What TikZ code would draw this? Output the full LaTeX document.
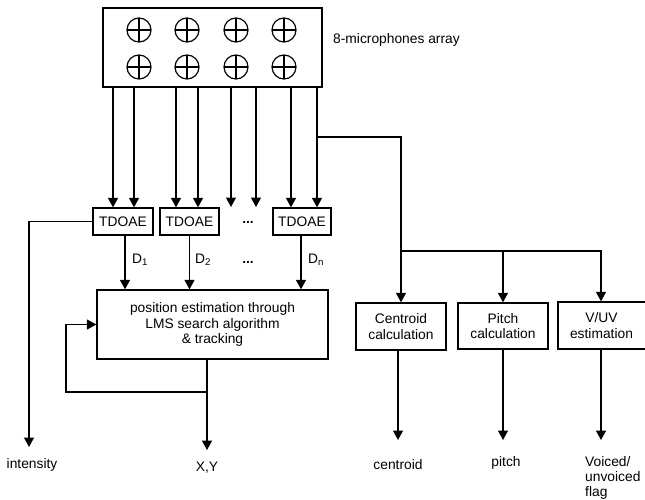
\documentclass[tikz,border=0pt]{standalone}
\usepackage{fontspec}
\setmainfont{Liberation Sans}
\usetikzlibrary{arrows.meta,calc}
\begin{document}
\begin{tikzpicture}[x=1pt,y=-1pt,
  every node/.style={font=\fontsize{13.8}{15.5}\selectfont},
  ln/.style={line width=1.3pt},
  arr/.style={ln,-{Triangle[length=9.5pt,width=10pt]}},
  blk/.style={draw,ln,rectangle,inner sep=0pt,align=center},
  mic/.style={draw,line width=1.2pt,circle,minimum size=24pt,inner sep=0pt,
    path picture={\draw[line width=1.2pt] (path picture bounding box.north) -- (path picture bounding box.south)
      (path picture bounding box.west) -- (path picture bounding box.east);}},
  lbl/.style={inner sep=0pt,align=left}]
\useasboundingbox (0,0) rectangle (645,500);
% microphone array
\node[blk,minimum width=219pt,minimum height=79pt] (array) at (212.5,47.5) {};
\node[mic] (m1) at (139,30) {};
\node[mic] (m2) at (187,30) {};
\node[mic] (m3) at (236,30) {};
\node[mic] (m4) at (284,30) {};
\node[mic] (m5) at (139,67) {};
\node[mic] (m6) at (187,67) {};
\node[mic] (m7) at (236,67) {};
\node[mic] (m8) at (284,67) {};
\node[lbl,anchor=west] (arrlbl) at (333,40) {8-microphones array};
% TDOAE
\node[blk,minimum width=60pt,minimum height=27pt] (t1) at (123,221.5) {TDOAE};
\node[blk,minimum width=59pt,minimum height=27pt] (t2) at (189.5,221.5) {TDOAE};
\node[blk,minimum width=58pt,minimum height=27pt] (t3) at (302,221.5) {TDOAE};
\node[lbl] (dots1) at (248,222) {\textbf{...}};
\coordinate (d1) at (231,207);
\coordinate (d2) at (256,207);
% arrows from array
\draw[arr] ([xshift=-10pt]t1.north |- array.south) -- ([xshift=-10pt]t1.north);
\draw[arr] ([xshift=11pt]t1.north |- array.south) -- ([xshift=11pt]t1.north);
\draw[arr] ([xshift=-13.5pt]t2.north |- array.south) -- ([xshift=-13.5pt]t2.north);
\draw[arr] ([xshift=8.5pt]t2.north |- array.south) -- ([xshift=8.5pt]t2.north);
\draw[arr] (d1 |- array.south) -- (d1);
\draw[arr] (d2 |- array.south) -- (d2);
\draw[arr] ([xshift=-11pt]t3.north |- array.south) -- ([xshift=-11pt]t3.north);
\draw[arr] ([xshift=15pt]t3.north |- array.south) -- ([xshift=15pt]t3.north);
% position estimation
\node[blk,minimum width=231pt,minimum height=69pt] (pos) at (212.5,324.5)
  {position estimation through\\LMS search algorithm\\\& tracking};
\draw[arr] ([xshift=2pt]t1.south) -- ([xshift=2pt]t1.south |- pos.north);
\draw[arr] (t2.south) -- (t2.south |- pos.north);
\draw[arr] ([xshift=-1pt]t3.south) -- ([xshift=-1pt]t3.south |- pos.north);
\node[lbl,anchor=west] (D1) at (132,260) {D\textsubscript{1}};
\node[lbl,anchor=west] (D2) at (195,260) {D\textsubscript{2}};
\node[lbl,anchor=west] (Dn) at (308,260) {D\textsubscript{n}};
\node[lbl] (dots2) at (248,262) {\textbf{...}};
% intensity
\coordinate (iend) at (29,447);
\draw[arr] (t1.west) -| (iend);
\node[lbl] (intensity) at (32,465) {intensity};
% X,Y output and feedback
\coordinate (xyend) at (207,450);
\coordinate (fb) at (207,392);
\draw[arr] (pos.south -| xyend) -- (xyend);
\draw[arr] (fb) -- (66,392) |- (pos.west);
\node[lbl] (xy) at (207,468) {X,Y};
% right branch
\node[blk,minimum width=90pt,minimum height=47pt] (cent) at (401,326.5) {Centroid\\calculation};
\node[blk,minimum width=90pt,minimum height=46pt] (pitch) at (503,326) {Pitch\\calculation};
\node[blk,minimum width=91pt,minimum height=47pt] (vuv) at (603.5,325.5) {\hspace*{-4pt}V/UV\\\hspace*{-4pt}estimation};
\coordinate (j1) at (317,137);
\coordinate (j2) at (401,251);
\coordinate (cend) at (398,440);
\coordinate (pend) at (503,440);
\coordinate (vend) at (601,440);
\draw[arr] (j1) -| (cent.north);
\draw[arr] (j2) -| (pitch.north);
\draw[arr] (j2) -| (vuv.north -| vend);
\draw[arr] (cent.south -| cend) -- (cend);
\draw[arr] (pitch.south) -- (pend);
\draw[arr] (vuv.south -| vend) -- (vend);
\node[lbl] (centroid) at (398,465) {centroid};
\node[lbl] (pitchl) at (506,463) {pitch};
\node[lbl,anchor=north west,font=\fontsize{13.8}{15}\selectfont] (vflag) at (585,456) {Voiced/\\unvoiced\\flag};
\end{tikzpicture}
\end{document}
